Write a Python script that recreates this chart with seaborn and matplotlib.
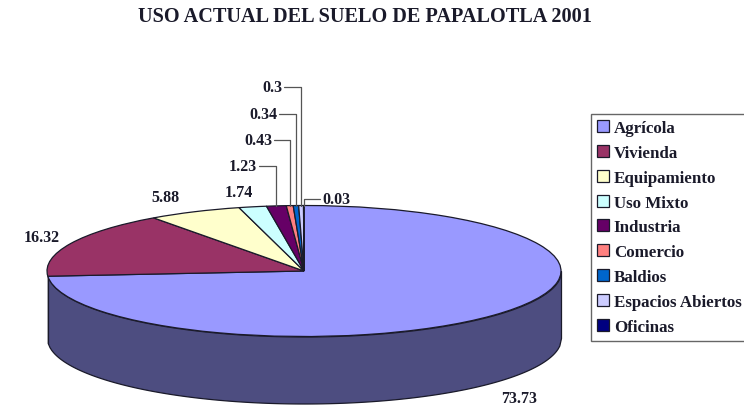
# -*- coding: utf-8 -*-
import numpy as np
import matplotlib
matplotlib.use('Agg')
import matplotlib.pyplot as plt
import seaborn as sns

categories = ['Agrícola', 'Vivienda', 'Equipamiento', 'Uso Mixto', 'Industria',
              'Comercio', 'Baldios', 'Espacios Abiertos', 'Oficinas']
values = [73.73, 16.32, 5.88, 1.74, 1.23, 0.43, 0.34, 0.3, 0.03]
colors = ['#9999FF', '#993366', '#FFFFCC', '#CCFFFF', '#660066',
          '#FF8080', '#0066CC', '#CCCCFF', '#000080']
title = 'USO ACTUAL DEL SUELO DE PAPALOTLA 2001'

# picture layout, in pixels of the 744x406 image
W, H = 744, 406
CX, CY, RX, RY, DEPTH = 304, 272, 257, 65.5, 67
# label anchor (x, y, ha) and whether a leader line runs up from the rim
label_layout = {
    'Agrícola': (519, 399, 'center', False),
    'Vivienda': (42, 238, 'center', False),
    'Equipamiento': (165, 198, 'center', False),
    'Uso Mixto': (239, 193, 'center', False),
    'Industria': (257, 167, 'right', True),
    'Comercio': (272, 141, 'right', True),
    'Baldios': (277, 115, 'right', True),
    'Espacios Abiertos': (282, 88, 'right', True),
    'Oficinas': (322, 200, 'left', True),
}

sns.set_theme(style='white')
plt.rcParams['font.family'] = ['Liberation Serif', 'DejaVu Serif']
palette = sns.color_palette(colors)
ink = '#1a1a2a'


def px(x, y):
    # image pixels to data units of the squashed pie axes
    return (x - CX) / RX, (CY - y) / RY


fig = plt.figure(figsize=(W / 100, H / 100), dpi=100)
ax = fig.add_axes([0, 0, 1, 1])
wedges, _ = ax.pie(values, colors=palette, startangle=90, counterclock=False,
                   radius=1, wedgeprops=dict(edgecolor=ink, linewidth=0.9))
ax.set_aspect('auto')
ax.set_xlim(px(0, 0)[0], px(W, 0)[0])
ax.set_ylim(px(0, H)[1], px(0, 0)[1])

# outer wall of the first slice, half the brightness of its top
left = np.cos(np.radians(wedges[0].theta1))
xs = np.linspace(left, 1, 300)
rim = -np.sqrt(1 - xs ** 2)
wall = tuple(c / 2 for c in palette[0])
ax.fill_between(xs, rim, rim - DEPTH / RY, color=wall, edgecolor=ink, linewidth=0.9, zorder=0)
ax.plot([left, left], [-np.sqrt(1 - left ** 2), -np.sqrt(1 - left ** 2) - DEPTH / RY],
        color=ink, linewidth=0.9, zorder=0)

# value labels, with leaders for the thin slices
for wedge, name, value in zip(wedges, categories, values):
    x, y, ha, leader = label_layout[name]
    lx, ly = px(x, y)
    ax.text(lx, ly, f'{value:g}', ha=ha, va='center', fontsize=11.5, fontweight='bold', color=ink)
    if leader:
        mid = np.radians((wedge.theta1 + wedge.theta2) / 2)
        rx, ry = np.cos(mid), np.sin(mid)
        gap = 2 / RX if ha == 'right' else -2 / RX
        ax.plot([lx + gap, rx, rx], [ly, ly, ry], color='#555555', linewidth=0.9, zorder=3)

fig.text(365 / W, 1 - 17 / H, title, ha='center', va='center',
         fontsize=14.6, fontweight='bold', color=ink)

legend = ax.legend(wedges, categories, loc='upper left', bbox_to_anchor=(590.5 / W, 1 - 115 / H),
                   bbox_transform=fig.transFigure, frameon=True, fancybox=False, framealpha=1,
                   edgecolor='#666666', prop=dict(size=12.2, weight='bold'),
                   handlelength=0.72, handleheight=0.72, handletextpad=0.3,
                   labelspacing=0.52, borderpad=0.36, borderaxespad=0, labelcolor=ink)
legend.get_frame().set_linewidth(1.0)

fig.savefig('out.png', dpi=100)
plt.close(fig)
